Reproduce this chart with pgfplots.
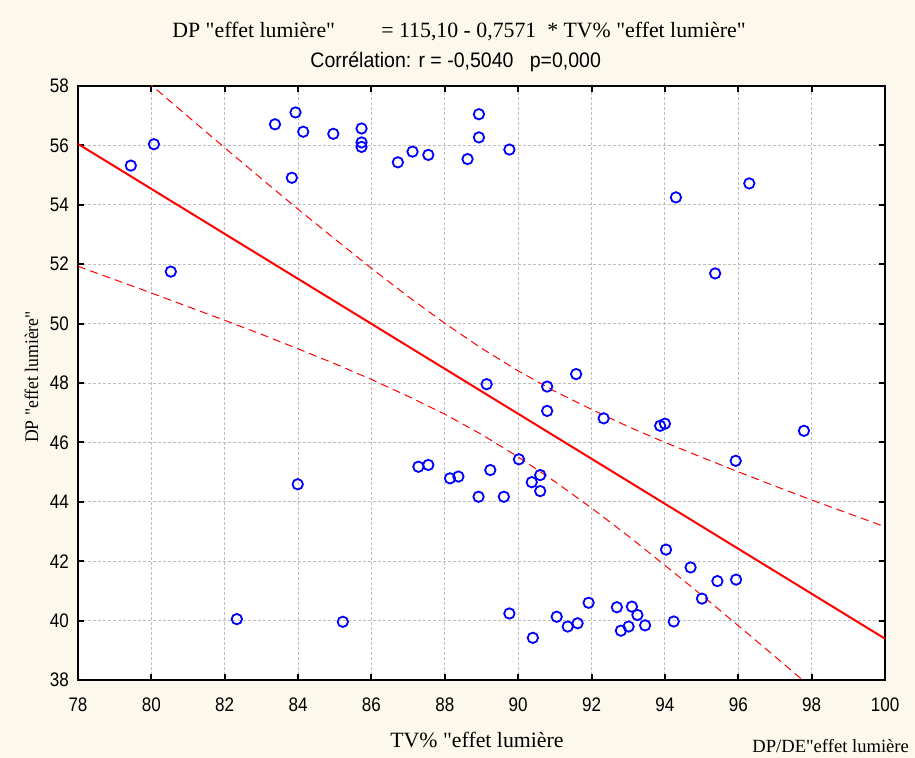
\documentclass[border=0pt]{standalone}
\usepackage{fontspec}
\usepackage{pgfplots}
\pgfplotsset{compat=1.18}
\setmainfont{Liberation Serif}
\newfontfamily\arialn[FakeStretch=0.87]{Liberation Sans}
\newfontfamily\arialc[FakeStretch=0.93]{Liberation Sans}
\newfontfamily\timesn{Liberation Serif}
\newfontfamily\timesc[FakeStretch=0.92]{Liberation Serif}
\definecolor{bgcream}{HTML}{FDF8EC}
\definecolor{gridgray}{HTML}{BDBDBD}

\begin{document}
\begin{tikzpicture}
  % page = 915 x 758 px, 1 px = 0.5pt
  \path[use as bounding box, fill=bgcream] (0,0) rectangle (457.5pt,-379pt);
\begin{axis}[
    at={(39pt,-340pt)}, anchor=south west,
    scale only axis, width=403.5pt, height=297pt,
    xmin=78, xmax=100, ymin=38, ymax=58,
    xtick distance=2, ytick distance=2,
    axis background/.style={fill=white},
    axis line style={line width=1.2pt},
    grid=major,
    major grid style={gridgray, line width=0.5pt, dash pattern=on 1.5pt off 1pt},
    tick align=inside, major tick length=3pt,
    tick style={black, line width=1pt},
    xtick pos=both, ytick pos=both,
    xticklabel pos=bottom, yticklabel pos=left,
    /pgf/number format/assume math mode=true,
    tick label style={font=\arialn\fontsize{9.8}{11}\selectfont},
    xticklabel style={yshift=-5.5pt},
    yticklabel style={xshift=-1pt},
    clip=true,
  ]
  % upper 95% band
  \addplot[red, line width=0.5pt, dash pattern=on 4pt off 2.5pt] coordinates {
    (78,60.17) (79,59.10) (80,58.03) (81,56.97) (82,55.92) (83,54.88) (84,53.85)
    (85,52.85) (86,51.86) (87,50.91) (88,50.01) (89,49.17) (90,48.41) (91,47.72)
    (92,47.11) (93,46.53) (94,46.00) (95,45.50) (96,45.01) (97,44.53) (98,44.06)
    (99,43.61) (100,43.16)
  };
  % lower 95% band
  \addplot[red, line width=0.5pt, dash pattern=on 4pt off 2.5pt] coordinates {
    (78,51.93) (79,51.48) (80,51.03) (81,50.57) (82,50.11) (83,49.64) (84,49.15)
    (85,48.65) (86,48.12) (87,47.55) (88,46.95) (89,46.27) (90,45.51) (91,44.68)
    (92,43.79) (93,42.85) (94,41.86) (95,40.86) (96,39.83) (97,38.79) (98,37.74)
    (99,36.69) (100,35.62)
  };
  % regression line
  \addplot[red, line width=1pt] coordinates {(78,56.05) (100,39.39)};
  % observations
  \addplot[only marks, mark=o, mark size=2.6pt, blue, mark options={line width=0.9pt}] coordinates {
    (79.44,55.32) (80.07,56.04) (80.53,51.75) (82.33,40.05) (83.37,56.71)
    (83.83,54.91) (83.93,57.11) (83.99,44.59) (84.14,56.46) (84.96,56.39)
    (85.22,39.96) (85.73,56.57) (85.73,56.10) (85.73,55.95) (86.72,55.43)
    (87.12,55.79) (87.55,55.68) (88.62,55.54) (88.93,57.05) (88.93,56.27)
    (89.76,55.86) (89.14,47.96) (90.79,47.88) (91.58,48.30) (90.79,47.06)
    (92.33,46.81) (93.87,46.56) (94.00,46.63) (87.28,45.18) (87.55,45.24)
    (88.14,44.79) (88.37,44.85) (89.24,45.07) (90.02,45.43) (90.60,44.90)
    (90.37,44.66) (90.60,44.36) (88.92,44.17) (89.61,44.17) (94.03,42.39)
    (89.76,40.24) (90.40,39.42) (91.05,40.13) (91.35,39.80) (91.62,39.91)
    (91.92,40.60) (92.69,40.45) (93.10,40.47) (93.25,40.19) (92.80,39.66)
    (93.01,39.80) (93.46,39.84) (94.24,39.97) (94.70,41.79) (95.43,41.33)
    (95.94,41.38) (95.01,40.74) (97.79,46.39) (95.93,45.38) (94.30,54.25)
    (96.30,54.72) (95.37,51.69)
  };
\end{axis}
  % titles and labels
  \node[anchor=base west, inner sep=0pt, font=\timesn\fontsize{10.9}{12}\selectfont] at (86pt,-19pt) {DP "effet lumière"};
  \node[anchor=base west, inner sep=0pt, font=\timesn\fontsize{10.9}{12}\selectfont] at (190.5pt,-19pt) {= 115,10 - 0,7571\ \ * TV\% "effet lumière"};
  \node[anchor=base west, inner sep=0pt, font=\arialc\fontsize{10.5}{12}\selectfont] at (155pt,-34pt) {Corrélation: r = -0,5040\ \ \ p=0,000};
  \node[anchor=base west, inner sep=0pt, font=\timesn\fontsize{10.9}{12}\selectfont] at (195pt,-373.5pt) {TV\% "effet lumière};
  \node[anchor=base west, inner sep=0pt, font=\timesn\fontsize{9.3}{11}\selectfont] at (376pt,-376pt) {DP/DE"effet lumière};
  \node[anchor=base, rotate=90, inner sep=0pt, font=\timesc\fontsize{9.6}{12}\selectfont] at (19pt,-188.5pt) {DP "effet lumière"};
\end{tikzpicture}
\end{document}
